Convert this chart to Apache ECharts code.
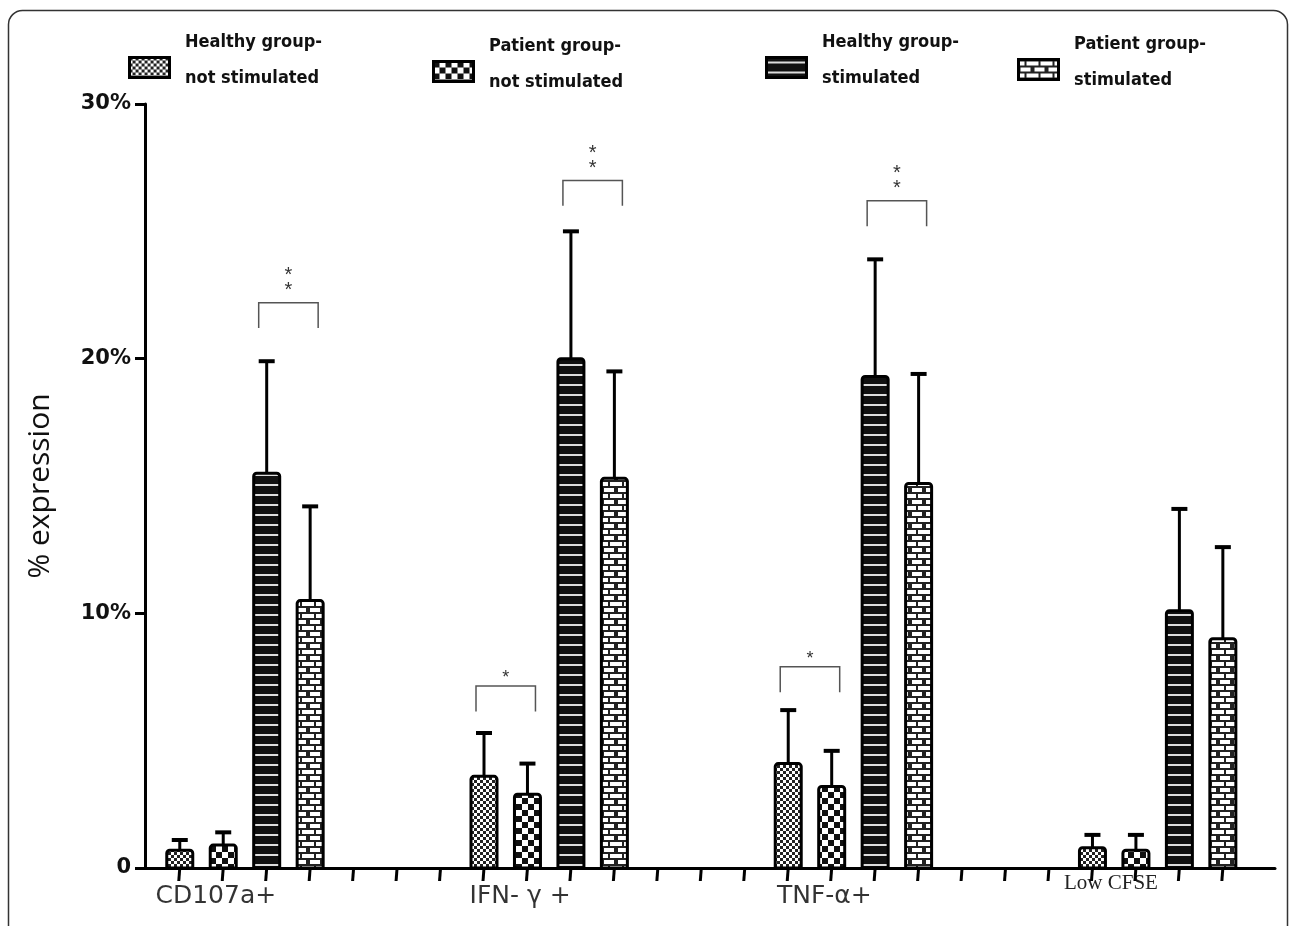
<!DOCTYPE html>
<html>
<head>
<meta charset="utf-8">
<title>% expression</title>
<script src="https://cdn.jsdelivr.net/npm/echarts@6/dist/echarts.min.js"></script>
<style>
  html, body { margin: 0; background: #fff; }
  #chart { width: 1292px; height: 926px; }
</style>
</head>
<body>
<div id="chart"></div>
<script>
var categories = ['CD107a+', 'IFN- γ +', 'TNF-α+', 'Low CFSE'];
var seriesNames = ['Healthy group-\nnot stimulated', 'Patient group-\nnot stimulated', 'Healthy group-\nstimulated', 'Patient group-\nstimulated'];
// mean values (%) per series, one per category
var healthyNS = [0.7, 3.6, 4.1, 0.8];
var patientNS = [0.9, 2.9, 3.2, 0.7];
var healthyS  = [15.5, 20.0, 19.3, 10.1];
var patientS  = [10.5, 15.3, 15.1, 9.0];
// top of error bar (%)
var healthyNSErr = [1.1, 5.3, 6.2, 1.3];
var patientNSErr = [1.4, 4.1, 4.6, 1.3];
var healthySErr  = [19.9, 25.0, 23.9, 14.1];
var patientSErr  = [14.2, 19.5, 19.4, 12.6];
// significance brackets: [category, from series, to series, level (%), stars]
var brackets = [
  [0, 2, 3, 22.2, '**'],
  [1, 0, 1, 7.15, '*'],
  [1, 2, 3, 27.0, '**'],
  [2, 0, 1, 7.9, '*'],
  [2, 2, 3, 26.2, '**']
];
var yTicks = ['0', '10%', '20%', '30%'];

var means = [healthyNS, patientNS, healthyS, patientS];
var errs = [healthyNSErr, patientNSErr, healthySErr, patientSErr];
var groupStep = 7;   // slot units between category groups

function makePattern(kind) {
  var c = document.createElement('canvas');
  var ctx = c.getContext('2d');
  if (kind === 0) {
    c.width = 6; c.height = 6;
    ctx.fillStyle = '#fff'; ctx.fillRect(0, 0, 6, 6);
    ctx.fillStyle = '#222';
    ctx.fillRect(0, 0, 3, 3); ctx.fillRect(3, 3, 3, 3);
  } else if (kind === 1) {
    c.width = 12; c.height = 12;
    ctx.fillStyle = '#fff'; ctx.fillRect(0, 0, 12, 12);
    ctx.fillStyle = '#111';
    ctx.fillRect(0, 0, 6, 6); ctx.fillRect(6, 6, 6, 6);
  } else if (kind === 2) {
    c.width = 8; c.height = 10;
    ctx.fillStyle = '#111'; ctx.fillRect(0, 0, 8, 10);
    ctx.fillStyle = '#ddd'; ctx.fillRect(0, 4, 8, 2);
  } else {
    c.width = 14; c.height = 12;
    ctx.fillStyle = '#fff'; ctx.fillRect(0, 0, 14, 12);
    ctx.fillStyle = '#222';
    ctx.fillRect(0, 0, 14, 2); ctx.fillRect(0, 6, 14, 2);
    ctx.fillRect(6, 0, 2, 6); ctx.fillRect(0, 6, 2, 6); ctx.fillRect(12, 6, 2, 6);
  }
  return c;
}
var patterns = [0, 1, 2, 3].map(makePattern);

var barData = [];
for (var s = 0; s < 4; s++) {
  for (var k = 0; k < categories.length; k++) {
    barData.push([k * groupStep + s + 0.8, means[s][k], errs[s][k], s]);
  }
}

var chart = echarts.init(document.getElementById('chart'));

function bracketItem(params, api) {
  var b = brackets[params.dataIndex];
  var x1 = api.coord([b[0] * groupStep + b[1] + 0.8, b[3]]);
  var x2 = api.coord([b[0] * groupStep + b[2] + 0.8, b[3]]);
  var drop = api.coord([0, b[3] - 1])[1];
  var st = { stroke: '#555', lineWidth: 1.5, fill: null };
  var children = [
    { type: 'polyline', shape: { points: [[x1[0] - 8, drop], [x1[0] - 8, x1[1]], [x2[0] + 8, x1[1]], [x2[0] + 8, drop]] }, style: st }
  ];
  var mid = (x1[0] + x2[0]) / 2;
  if (b[4] === '**') {
    children.push({ type: 'text', x: mid, y: x1[1] - 12, style: { text: '*', fontSize: 20, fill: '#333', align: 'center', verticalAlign: 'middle' } });
    children.push({ type: 'text', x: mid, y: x1[1] - 27, style: { text: '*', fontSize: 20, fill: '#333', align: 'center', verticalAlign: 'middle' } });
  } else {
    children.push({ type: 'text', x: mid, y: x1[1] - 8, style: { text: '*', fontSize: 18, fill: '#333', align: 'center', verticalAlign: 'middle' } });
  }
  return { type: 'group', children: children };
}

var tickData = [];
for (var t = 0; t < categories.length * groupStep - 3; t++) tickData.push([t + 0.8, 0]);

var legendGraphics = [];
var legendX = [128, 432, 765, 1017];
var legendY = [46, 50, 46, 48];
for (var i = 0; i < 4; i++) {
  legendGraphics.push({
    type: 'rect', left: legendX[i], top: legendY[i] + 10, shape: { width: 40, height: 20 },
    style: { fill: { image: patterns[i], repeat: 'repeat' }, stroke: '#000', lineWidth: 3 }
  });
  legendGraphics.push({
    type: 'text', left: legendX[i] + 57, top: legendY[i] - 22,
    style: { text: seriesNames[i], font: 'bold 18px "DejaVu Sans Condensed", sans-serif', fill: '#111', lineHeight: 36 }
  });
}
legendGraphics.push({
  type: 'rect', left: 6, top: 8, shape: { width: 1279, height: 930, r: 14 },
  style: { fill: null, stroke: '#333', lineWidth: 1.5 }
});
legendGraphics.push({
  type: 'text', left: 1064, top: 873,
  style: { text: categories[3], font: '21px "Liberation Serif", serif', fill: '#222' }
});

chart.setOption({
  animation: false,
  grid: { left: 145, right: 17, top: 104, bottom: 58 },
  graphic: legendGraphics,
  xAxis: {
    type: 'value', min: 0, max: 26,
    axisLine: { lineStyle: { color: '#000', width: 3 } },
    axisTick: { show: false }, axisLabel: { show: false }, splitLine: { show: false }
  },
  yAxis: {
    type: 'value', min: 0, max: 30, interval: 10,
    name: '% expression', nameLocation: 'middle', nameGap: 90,
    nameTextStyle: { fontSize: 30, color: '#111', fontFamily: 'Open Sans' },
    axisLine: { show: true, lineStyle: { color: '#000', width: 3 } },
    axisTick: { show: true, length: 10, lineStyle: { color: '#000', width: 3 } },
    axisLabel: {
      formatter: function (v) { return yTicks[v / 10]; },
      fontSize: 21, fontWeight: 'bold', color: '#111', fontFamily: 'DejaVu Sans', margin: 14
    },
    splitLine: { show: false }
  },
  series: [
    {
      type: 'custom', data: tickData, z: 1,
      renderItem: function (params, api) {
        var p = api.coord([api.value(0), 0]);
        return { type: 'line', shape: { x1: p[0], y1: p[1], x2: p[0] - 1, y2: p[1] + 13 }, style: { stroke: '#000', lineWidth: 3 } };
      }
    },
    {
      type: 'custom', data: barData, z: 3,
      renderItem: function (params, api) {
        var x = api.value(0), v = api.value(1), e = api.value(2), s = api.value(3);
        var base = api.coord([x, 0]);
        var top = api.coord([x, v]);
        var et = api.coord([x, e]);
        var half = 13;
        return { type: 'group', children: [
          { type: 'line', shape: { x1: base[0], y1: top[1], x2: base[0], y2: et[1] }, style: { stroke: '#000', lineWidth: 3 } },
          { type: 'line', shape: { x1: base[0] - 8, y1: et[1], x2: base[0] + 8, y2: et[1] }, style: { stroke: '#000', lineWidth: 4 } },
          { type: 'rect', shape: { x: base[0] - half, y: top[1], width: half * 2, height: base[1] - top[1], r: [3, 3, 0, 0] },
            style: { fill: { image: patterns[s], repeat: 'repeat' }, stroke: '#000', lineWidth: 3 } }
        ] };
      }
    },
    {
      type: 'custom', data: brackets.map(function (b, i) { return [i]; }), z: 4,
      renderItem: bracketItem
    },
    {
      type: 'scatter', symbolSize: 0, z: 5,
      data: categories.slice(0, 3).map(function (c, k) { return { value: [k * groupStep + 1.63, 0], name: c }; }),
      label: { show: true, position: 'bottom', distance: 16, formatter: '{b}', fontSize: 25, fontFamily: 'DejaVu Sans', color: '#000' }
    }
  ]
});
</script>
</body>
</html>
